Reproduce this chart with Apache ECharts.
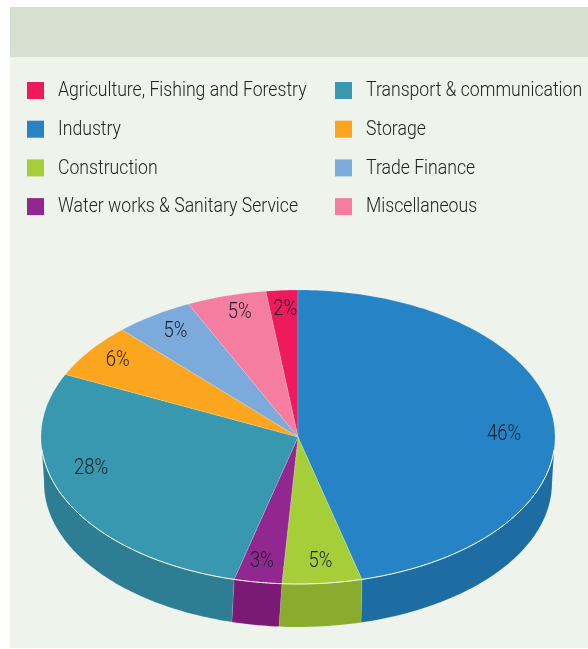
<!DOCTYPE html>
<html>
<head>
<meta charset="utf-8">
<title>Sector share</title>
<script src="https://cdn.jsdelivr.net/npm/echarts@6/dist/echarts.min.js"></script>
<style>
    html, body { margin: 0; padding: 0; background: #fff; }
    #main { width: 588px; height: 649px; }
</style>
</head>
<body>
<div id="main"></div>
<script>
// data, in legend order
var categories = ['Agriculture, Fishing and Forestry', 'Industry', 'Construction', 'Water works & Sanitary Service',
    'Transport & communication', 'Storage', 'Trade Finance', 'Miscellaneous'];
var shares = [2, 46, 5, 3, 28, 6, 5, 5];

var topColors = ['#ee1a5c', '#2583c6', '#a6ce39', '#92278f', '#3798b0', '#fba61e', '#7caadb', '#f47da0'];
var wallColors = ['#b81448', '#1d6da3', '#8aab2d', '#7a1a75', '#2d7d93', '#c98518', '#6288b0', '#c36480'];

// the labels in the picture were placed by hand, so nudge them off the 0.8 radius point
var labelNudge = [[0, -10], [2, 12], [3, 7], [-4, 8], [-21, -19], [-14, -7], [-7, -8], [-1, -12]];

(function() {
    var myChart = echarts.init(document.getElementById('main'));

    // tilted pie geometry
    var cx = 298, cy = 437, rx = 257, ry = 147;
    var wallCy = 483, wallRx = 254, wallRy = 144;
    // no condensed face is installed, so squeeze the text horizontally
    var fontName = 'Roboto, "Liberation Sans", sans-serif';
    var squeeze = 0.84;

    var total = 0;
    for (var i = 0; i < shares.length; i++) total += shares[i];

    // angle is clockwise from 12 o'clock, first slice ends exactly on top
    function toAngle(v) {
        return v / total * 360;
    }

    var startAngles = [];
    var acc = -toAngle(shares[0]);
    for (var j = 0; j < shares.length; j++) {
        startAngles.push(acc);
        acc += toAngle(shares[j]);
    }

    function rimPoint(deg, f) {
        var a = deg * Math.PI / 180;
        return [cx + rx * f * Math.sin(a), cy - ry * f * Math.cos(a)];
    }

    function wallPoint(deg) {
        // the bottom edge leans a little to the left past the front of the pie
        var d = deg > 165 ? deg + Math.min(deg - 165, 10) * 0.07 : deg;
        var a = d * Math.PI / 180;
        return [cx + wallRx * Math.sin(a), wallCy - wallRy * Math.cos(a)];
    }

    function arc(fn, from, to) {
        var pts = [];
        var steps = Math.max(2, Math.ceil(Math.abs(to - from)));
        for (var s = 0; s <= steps; s++) {
            pts.push(fn(from + (to - from) * s / steps));
        }
        return pts;
    }

    function makeRenderItem(idx) {
        return function(params, api) {
            var a0 = startAngles[idx];
            var a1 = a0 + toAngle(api.value(0));
            var children = [];

            // side wall, only the front half of the pie shows one
            var w0 = Math.max(a0, 90), w1 = Math.min(a1, 270);
            if (w1 > w0) {
                var top = arc(function(d) { return rimPoint(d, 1); }, w0, w1);
                var bottom = arc(wallPoint, w1, w0);
                children.push({
                    type: 'polygon',
                    shape: { points: top.concat(bottom) },
                    style: { fill: wallColors[idx], stroke: 'rgba(255,255,255,0.25)', lineWidth: 0.5 }
                });
            }

            // top face
            var face = [[cx, cy]].concat(arc(function(d) { return rimPoint(d, 1); }, a0, a1));
            children.push({
                type: 'polygon',
                shape: { points: face },
                style: { fill: topColors[idx], stroke: 'rgba(255,255,255,0.35)', lineWidth: 0.5 }
            });

            // white line along the front rim
            var r0 = Math.max(a0, 95), r1 = Math.min(a1, 265);
            if (r1 > r0) {
                children.push({
                    type: 'polyline',
                    shape: { points: arc(function(d) { return rimPoint(d, 1); }, r0, r1) },
                    style: { fill: null, stroke: '#f4f8f2', lineWidth: 1 }
                });
            }

            var mid = rimPoint((a0 + a1) / 2, 0.8);
            children.push({
                type: 'text',
                x: mid[0] + labelNudge[idx][0],
                y: mid[1] + labelNudge[idx][1],
                scaleX: squeeze,
                style: {
                    text: api.value(0) + '%',
                    fill: '#14202a',
                    font: '300 22px ' + fontName,
                    align: 'center',
                    verticalAlign: 'middle'
                }
            });

            return { type: 'group', children: children };
        };
    }

    var series = [];
    for (var k = 0; k < categories.length; k++) {
        series.push({
            name: categories[k],
            type: 'custom',
            coordinateSystem: 'none',
            silent: true,
            animation: false,
            itemStyle: { color: topColors[k] },
            data: [[shares[k]]],
            renderItem: makeRenderItem(k)
        });
    }

    // legend only draws the swatches, the names sit in graphic text so they can be squeezed
    function legendColumn(names, left) {
        return {
            orient: 'vertical',
            left: left,
            top: 82,
            padding: 0,
            itemWidth: 17,
            itemHeight: 17,
            itemGap: 21.7,
            icon: 'rect',
            selectedMode: false,
            data: names,
            formatter: function() { return ''; },
            textStyle: { fontSize: 1 }
        };
    }

    var graphics = [
        { type: 'rect', z: -10, shape: { x: 10, y: 7, width: 578, height: 641 }, style: { fill: '#eef3ec' } },
        { type: 'rect', z: -9, shape: { x: 10, y: 7, width: 578, height: 50 }, style: { fill: '#d6e0d1' } }
    ];
    for (var n = 0; n < categories.length; n++) {
        graphics.push({
            type: 'text',
            x: n < 4 ? 58 : 366,
            y: 91 + (n % 4) * 38.7,
            scaleX: squeeze,
            style: {
                text: categories[n],
                fill: '#222',
                font: '300 21px ' + fontName,
                verticalAlign: 'middle'
            }
        });
    }

    var option = {
        animation: false,
        graphic: graphics,
        legend: [
            legendColumn(categories.slice(0, 4), 27),
            legendColumn(categories.slice(4), 335)
        ],
        series: series
    };

    myChart.setOption(option);
})();
</script>
</body>
</html>
